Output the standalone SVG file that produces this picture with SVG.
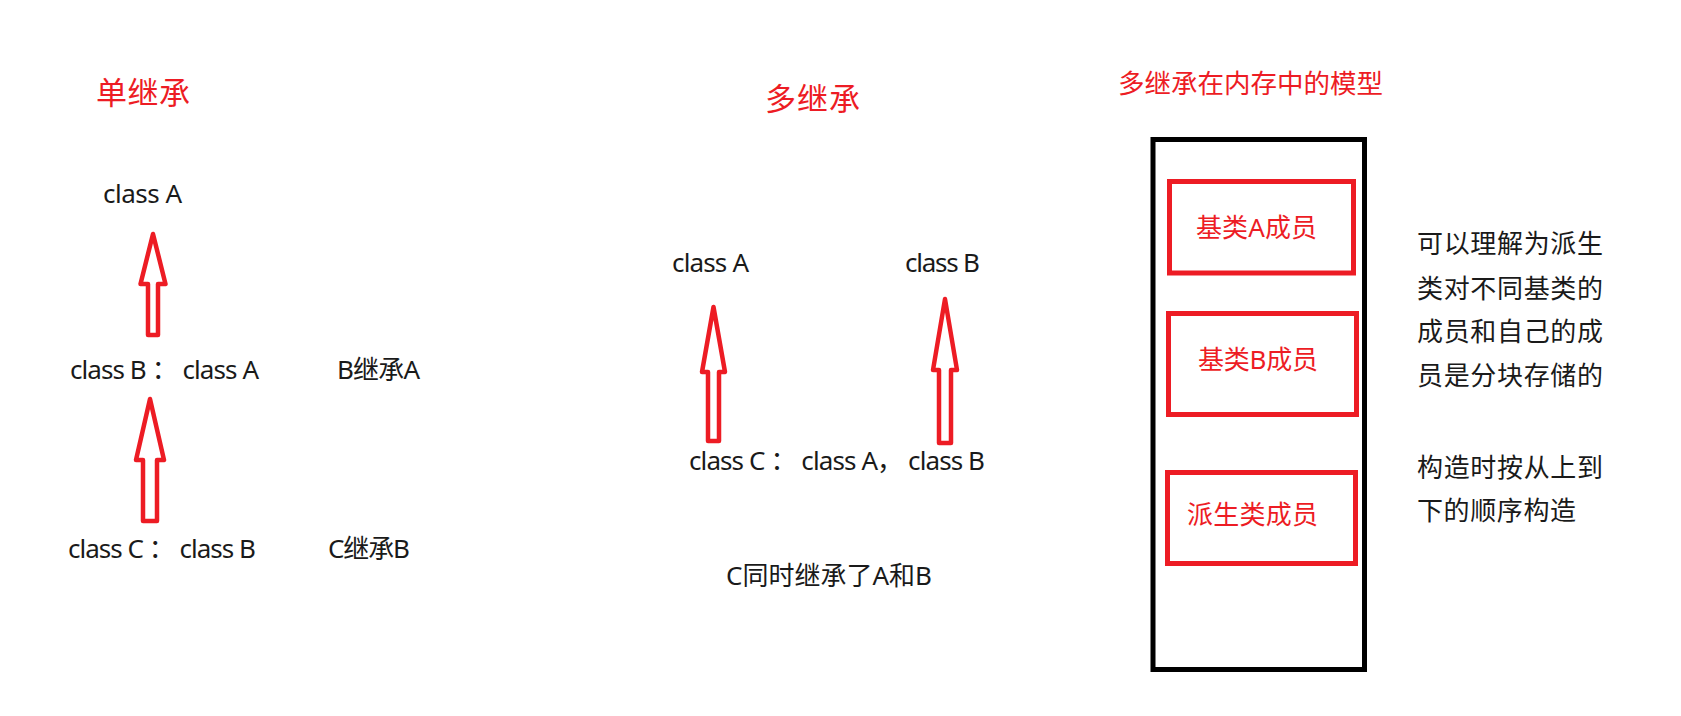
<svg xmlns="http://www.w3.org/2000/svg" width="1681" height="716" viewBox="0 0 1681 716">
<style>
.t{font-family:"Noto Sans","Noto Sans CJK SC",sans-serif;font-size:26px;fill:#1a1a1a}
.r{fill:#ED1C24}
.h{font-size:31px}
.arrow{fill:none;stroke:#ED1C24;stroke-width:4.5;stroke-linejoin:round}
.box{fill:none;stroke:#ED1C24;stroke-width:5}
.mem{fill:none;stroke:#000;stroke-width:5}
</style>
<rect width="1681" height="716" fill="#fff"/>

<g id="single-title"><text class="t r h" x="96" y="104" textLength="94">单继承</text></g>
<g id="s-classA"><text class="t" x="103" y="203" textLength="79">class A</text></g>
<g id="s-classB"><text class="t" x="70" y="379" textLength="189">class B ： class A</text></g>
<g id="s-noteB"><text class="t" x="337" y="379" textLength="83">B继承A</text></g>
<g id="s-classC"><text class="t" x="68" y="558" textLength="188">class C ： class B</text></g>
<g id="s-noteC"><text class="t" x="328" y="558" textLength="82">C继承B</text></g>

<g id="multi-title"><text class="t r h" x="765" y="110" textLength="95">多继承</text></g>
<g id="m-classA"><text class="t" x="672" y="272" textLength="77">class A</text></g>
<g id="m-classB"><text class="t" x="905" y="272" textLength="75">class B</text></g>
<g id="m-classC"><text class="t" x="689" y="470" textLength="296">class C ： class A， class B</text></g>
<g id="m-note"><text class="t" x="726" y="585" textLength="206">C同时继承了A和B</text></g>

<g id="connectors">
<path class="arrow" d="M153,234 L165.5,284 L158,284 L158,335 L148,335 L148,284 L140.5,284 Z"/>
<path class="arrow" d="M150,399 L164,460 L157,460 L157,521 L143,521 L143,460 L136,460 Z"/>
<path class="arrow" d="M713.5,307 L725,372 L719,372 L719,441 L708,441 L708,372 L702,372 Z"/>
<path class="arrow" d="M945,299 L957,370 L951,370 L951,443 L939,443 L939,370 L933,370 Z"/>
</g>

<g id="mem-title"><text class="t r" x="1118" y="93" textLength="265" style="font-size:26.5px">多继承在内存中的模型</text></g>
<g id="mem-block"><rect class="mem" x="1153" y="139.5" width="211.5" height="530"/></g>
<g id="box-A"><rect class="box" x="1169.5" y="181.5" width="184" height="91.5"/><text class="t r" x="1196" y="237" textLength="121">基类A成员</text></g>
<g id="box-B"><rect class="box" x="1168.5" y="313.5" width="188" height="101"/><text class="t r" x="1198" y="369" textLength="120">基类B成员</text></g>
<g id="box-D"><rect class="box" x="1167.5" y="472.5" width="188" height="91"/><text class="t r" x="1187" y="524" textLength="131">派生类成员</text></g>

<g id="explain">
<text class="t" x="1417" y="253" textLength="186">可以理解为派生</text>
<text class="t" x="1417" y="298" textLength="186">类对不同基类的</text>
<text class="t" x="1417" y="341" textLength="186">成员和自己的成</text>
<text class="t" x="1417" y="385" textLength="186">员是分块存储的</text>
<text class="t" x="1417" y="477" textLength="186">构造时按从上到</text>
<text class="t" x="1417" y="520" textLength="159">下的顺序构造</text>
</g>
</svg>
